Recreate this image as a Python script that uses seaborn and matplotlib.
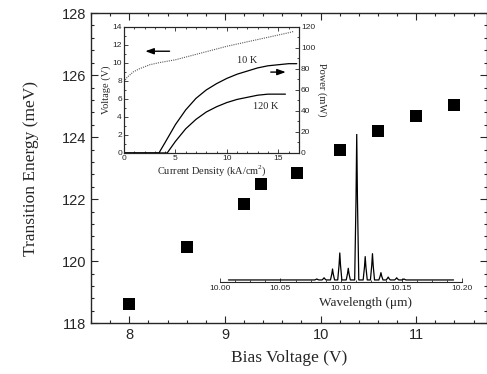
import numpy as np
import pandas as pd
import matplotlib
matplotlib.use("Agg")
import matplotlib.pyplot as plt
from matplotlib.ticker import MultipleLocator
import seaborn as sns

# Main panel: transition energy vs bias voltage
bias_v = [8.0, 8.6, 9.2, 9.38, 9.75, 10.2, 10.6, 11.0, 11.4]
energy_mev = [118.63, 120.47, 121.85, 122.48, 122.85, 123.58, 124.19, 124.69, 125.05]

# Inset: voltage and output power vs current density
jv_density = [0, 0.3, 0.9, 1.5, 2.5, 3.5, 5, 6, 7, 8, 9, 10, 11, 12, 13, 14, 15, 16, 16.5]
jv_voltage = [7.9, 8.4, 9.0, 9.35, 9.8, 10.05, 10.35, 10.65, 10.95, 11.25, 11.55,
              11.85, 12.1, 12.35, 12.6, 12.85, 13.1, 13.35, 13.5]
p10_density = [0, 3.4, 4, 5, 6, 7, 8, 9, 10, 11, 12, 13, 14, 15, 16, 16.8]
p10_power = [0, 0, 10, 27, 41, 52, 60, 66, 71, 75, 78, 81, 83, 84, 85, 85]
p120_density = [0, 4.2, 5, 6, 7, 8, 9, 10, 11, 12, 13, 14, 15, 15.7]
p120_power = [0, 0, 11, 23, 32, 39, 44, 48, 51, 53, 55, 56, 56, 56]

# Inset: emission spectrum (mode positions and relative intensities)
mode_wl = [10.080, 10.086, 10.093, 10.099, 10.106, 10.113, 10.120, 10.126,
           10.133, 10.139, 10.146, 10.152]
mode_int = [0.7, 1.5, 7.5, 18.5, 8.0, 100.0, 16.0, 18.0, 5.0, 2.0, 1.5, 0.7]
spec_start, spec_end, spec_base = 10.007, 10.193, 1.4

sns.set_style("ticks")
plt.rcParams["font.family"] = ["Liberation Sans", "DejaVu Sans"]
plt.rcParams["mathtext.fontset"] = "custom"
plt.rcParams["mathtext.rm"] = "Liberation Serif"

serif = ["Liberation Serif", "DejaVu Serif"]

fig = plt.figure(figsize=(4.87, 3.74), dpi=100)

# ---------------- main axes ----------------
ax = fig.add_axes([0.187, 0.136, 0.813, 0.829])
df = pd.DataFrame({"bias": bias_v, "energy": energy_mev})
sns.scatterplot(data=df, x="bias", y="energy", marker="s", s=70, color="black",
                edgecolor="black", linewidth=0, ax=ax, zorder=3)
ax.set_xlim(7.6, 11.74)
ax.set_ylim(118, 128)
ax.xaxis.set_major_locator(MultipleLocator(1))
ax.xaxis.set_minor_locator(MultipleLocator(0.2))
ax.yaxis.set_major_locator(MultipleLocator(2))
ax.yaxis.set_minor_locator(MultipleLocator(0.4))
ax.tick_params(which="both", direction="in", top=True, right=True, width=0.8)
ax.tick_params(which="major", length=5, labelsize=10.5)
ax.tick_params(which="minor", length=2.5)
for s in ax.spines.values():
    s.set_linewidth(1.0)
ax.set_xlabel("Bias Voltage (V)", family=serif, fontsize=12.5, labelpad=6)
ax.set_ylabel("Transition Energy (meV)", family=serif, fontsize=12.5, labelpad=16)

# ---------------- L-I-V inset ----------------
axi = fig.add_axes([0.2546, 0.591, 0.359, 0.337])
dv = pd.DataFrame({"J": jv_density, "V": jv_voltage})
sns.lineplot(data=dv, x="J", y="V", ax=axi, color="0.35", linestyle=(0, (1, 1)),
             linewidth=0.8)
axi.set_xlim(0, 17)
axi.set_ylim(0, 14)
axi.xaxis.set_major_locator(MultipleLocator(5))
axi.xaxis.set_minor_locator(MultipleLocator(1))
axi.yaxis.set_major_locator(MultipleLocator(2))
axi.yaxis.set_minor_locator(MultipleLocator(1))
axi.tick_params(which="both", direction="in", top=True, right=False, width=0.6,
                labelsize=6, pad=1.5)
axi.tick_params(which="major", length=3)
axi.tick_params(which="minor", length=1.5)
axi.set_ylabel("Voltage (V)", family=serif, fontsize=7.5, labelpad=1)
for s in axi.spines.values():
    s.set_linewidth(0.8)

axp = axi.twinx()
d10 = pd.DataFrame({"J": p10_density, "P": p10_power})
d120 = pd.DataFrame({"J": p120_density, "P": p120_power})
sns.lineplot(data=d10, x="J", y="P", ax=axp, color="black", linewidth=0.9)
sns.lineplot(data=d120, x="J", y="P", ax=axp, color="black", linewidth=0.9)
axp.set_ylim(0, 120)
axp.yaxis.set_major_locator(MultipleLocator(20))
axp.yaxis.set_minor_locator(MultipleLocator(10))
axp.tick_params(which="both", direction="in", width=0.6, labelsize=6, pad=1.5)
axp.tick_params(which="major", length=3)
axp.tick_params(which="minor", length=1.5)
axp.set_ylabel("Power (mW)", family=serif, fontsize=7.5, rotation=270, labelpad=8)
axp.set_xlabel("")
axi.set_xlabel("Current Density (kA/cm$^2$)", family=serif, fontsize=7.5, labelpad=1)
for s in axp.spines.values():
    s.set_linewidth(0.8)

axp.text(12.0, 88.5, "10 K", family=serif, fontsize=7.5, ha="center", va="center")
axp.text(13.8, 44, "120 K", family=serif, fontsize=7.5, ha="center", va="center")
axi.annotate("", xy=(1.8, 11.3), xytext=(4.7, 11.3),
             arrowprops=dict(arrowstyle="-|>,head_length=0.5,head_width=0.18",
                             color="black", lw=1.0))
axp.annotate("", xy=(16.0, 77), xytext=(14.0, 77),
             arrowprops=dict(arrowstyle="-|>,head_length=0.5,head_width=0.18",
                             color="black", lw=1.0))

# ---------------- spectrum inset ----------------
axs = fig.add_axes([0.4517, 0.246, 0.497, 0.396])
wl = [spec_start]
it = [spec_base]
for c, h in zip(mode_wl, mode_int):
    wl += [c - 0.0017, c - 0.0006, c, c + 0.0006, c + 0.0017]
    it += [spec_base, spec_base + 0.55 * h, spec_base + h, spec_base + 0.55 * h, spec_base]
wl.append(spec_end)
it.append(spec_base)
ds = pd.DataFrame({"wl": wl, "I": it})
sns.lineplot(data=ds, x="wl", y="I", ax=axs, color="black", linewidth=0.9,
             sort=False)
axs.set_xlim(10.0, 10.2)
axs.set_ylim(0, 101.5)
axs.patch.set_alpha(0)
for side in ("top", "left", "right"):
    axs.spines[side].set_visible(False)
axs.spines["bottom"].set_linewidth(0.8)
axs.set_yticks([])
axs.set_ylabel("")
axs.xaxis.set_major_locator(MultipleLocator(0.05))
axs.xaxis.set_minor_locator(MultipleLocator(0.0125))
axs.xaxis.set_major_formatter(matplotlib.ticker.FormatStrFormatter("%.2f"))
axs.tick_params(which="both", direction="in", width=0.6, labelsize=6, pad=2)
axs.tick_params(which="major", length=3)
axs.tick_params(which="minor", length=1.5)
axs.set_xlabel("Wavelength (μm)", family=serif, fontsize=9.5, labelpad=1)
axs.xaxis.set_label_coords(0.6, -0.1)

fig.savefig("out.png", dpi=100)
